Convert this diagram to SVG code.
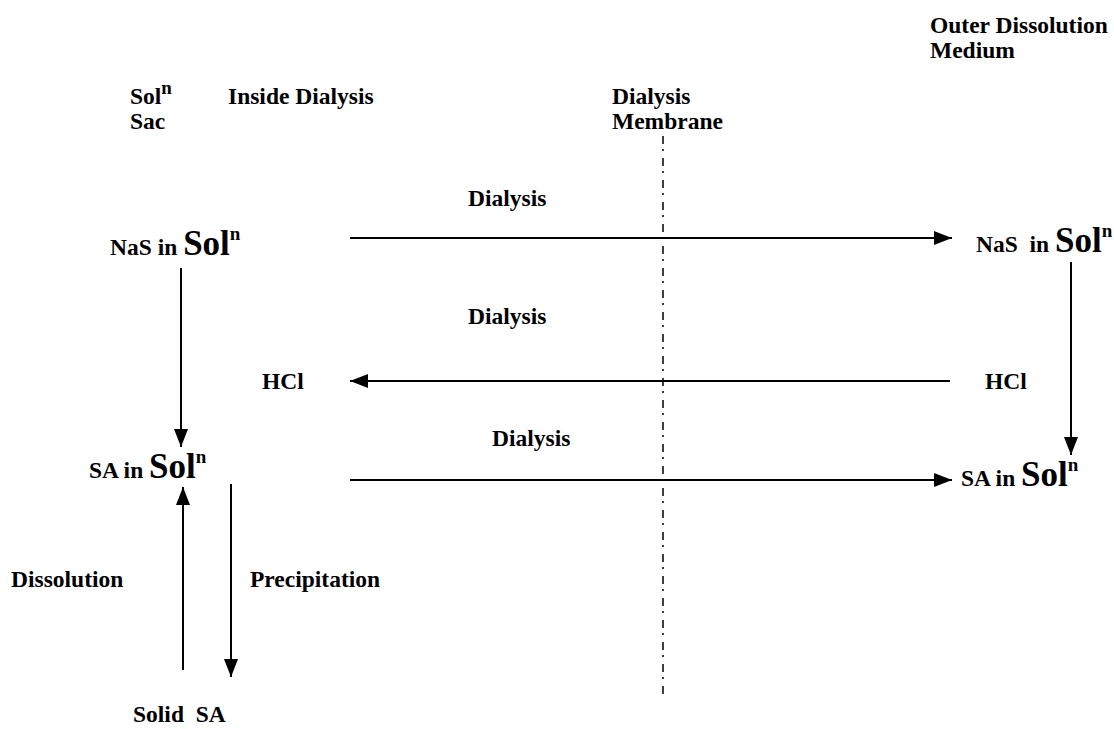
<svg xmlns="http://www.w3.org/2000/svg" width="1114" height="729" viewBox="0 0 1114 729">
<style>
text{font-family:"Liberation Serif","Times New Roman",serif;font-weight:bold;fill:#000;font-size:23.5px}
.big{font-size:35px}
.sup{font-size:19px}
.ln{stroke:#000;stroke-width:2;fill:none}
.mem{stroke:#000;stroke-width:1.5;fill:none;stroke-dasharray:8 5 2 7}
</style>
<defs>
<marker id="ah" markerUnits="userSpaceOnUse" markerWidth="20" markerHeight="14" refX="18" refY="7" orient="auto">
<path d="M0,0 L18,7 L0,14 Z" fill="#000"/>
</marker>
</defs>
<rect width="1114" height="729" fill="#fff"/>
<g id="headers">
<text x="130" y="104">Sol<tspan class="sup" dy="-10">n</tspan></text>
<text x="130" y="129">Sac</text>
<text x="228" y="104">Inside Dialysis</text>
<text x="612" y="104">Dialysis</text>
<text x="612" y="129">Membrane</text>
<text x="930" y="33">Outer Dissolution</text>
<text x="930" y="58">Medium</text>
</g>
<g id="membrane"><line class="mem" x1="663" y1="136" x2="663" y2="696"/></g>
<g id="nas-in"><text x="110" y="255">NaS in <tspan class="big">Sol</tspan><tspan class="sup" dy="-15">n</tspan></text></g>
<g id="nas-out"><text x="976" y="252" xml:space="preserve">NaS  in <tspan class="big">Sol</tspan><tspan class="sup" dy="-15">n</tspan></text></g>
<g id="hcl-in"><text x="262" y="389">HCl</text></g>
<g id="hcl-out"><text x="985" y="389">HCl</text></g>
<g id="sa-in"><text x="89" y="478">SA in <tspan class="big">Sol</tspan><tspan class="sup" dy="-15">n</tspan></text></g>
<g id="sa-out"><text x="961" y="486">SA in <tspan class="big">Sol</tspan><tspan class="sup" dy="-15">n</tspan></text></g>
<g id="solid-sa"><text x="133" y="722" xml:space="preserve">Solid  SA</text></g>
<g id="labels">
<text x="468" y="206">Dialysis</text>
<text x="468" y="324">Dialysis</text>
<text x="492" y="446">Dialysis</text>
<text x="11" y="587">Dissolution</text>
<text x="250" y="587">Precipitation</text>
</g>
<g id="connectors">
<line class="ln" x1="350" y1="238" x2="952" y2="238" marker-end="url(#ah)"/>
<line class="ln" x1="950" y1="381" x2="350" y2="381" marker-end="url(#ah)"/>
<line class="ln" x1="350" y1="480" x2="952" y2="480" marker-end="url(#ah)"/>
<line class="ln" x1="181" y1="268" x2="181" y2="447" marker-end="url(#ah)"/>
<line class="ln" x1="1071" y1="262" x2="1071" y2="455" marker-end="url(#ah)"/>
<line class="ln" x1="183" y1="670" x2="183" y2="487" marker-end="url(#ah)"/>
<line class="ln" x1="231" y1="484" x2="231" y2="677" marker-end="url(#ah)"/>
</g>
</svg>
